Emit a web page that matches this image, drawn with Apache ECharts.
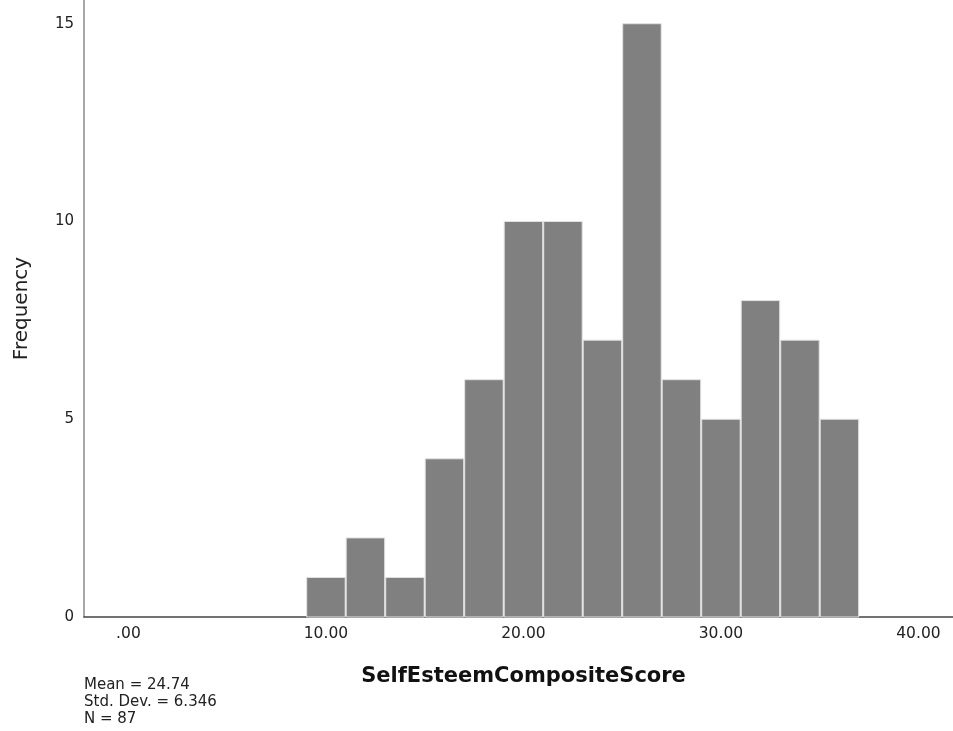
<!DOCTYPE html>
<html>
<head>
<meta charset="utf-8">
<script src="https://cdn.jsdelivr.net/npm/echarts@6/dist/echarts.min.js"></script>
<style>html,body{margin:0;padding:0;background:#fff}#c{width:953px;height:731px}</style>
</head>
<body>
<div id="c"></div>
<script>
// Histogram bins (lower edge), bin width and frequencies
var binStarts = [9, 11, 13, 15, 17, 19, 21, 23, 25, 27, 29, 31, 33, 35];
var binWidth = 2;
var counts = [1, 2, 1, 4, 6, 10, 10, 7, 15, 6, 5, 8, 7, 5];
var xTicks = [0, 10, 20, 30, 40];
var yTicks = [0, 5, 10, 15];
var statsLines = ['Mean = 24.74', 'Std. Dev. = 6.346', 'N = 87'];

var FONT = 'DejaVu Sans';
var chart = echarts.init(document.getElementById('c'), null, {renderer: 'canvas'});
var data = binStarts.map(function (s, i) { return [s, s + binWidth, counts[i]]; });

chart.setOption({
  animation: false,
  backgroundColor: '#fff',
  grid: {left: 84, right: 0, top: 0, bottom: 114},
  xAxis: {
    type: 'value', min: -2.25, max: 41.75,
    name: 'SelfEsteemCompositeScore', nameLocation: 'middle', nameGap: 49,
    nameTextStyle: {fontFamily: FONT, fontSize: 21, fontWeight: 'bold', color: '#111', padding: [0, 0, 0, 10]},
    axisLine: {show: true, onZero: false, lineStyle: {color: '#444', width: 1.5}},
    axisTick: {show: false},
    splitLine: {show: false},
    axisLabel: {
      customValues: xTicks, margin: 9,
      fontFamily: FONT, fontSize: 15.5, color: '#222',
      formatter: function (v) { return v === 0 ? '.00' : v.toFixed(2); }
    }
  },
  yAxis: {
    type: 'value', min: 0, max: 15.6,
    name: 'Frequency', nameLocation: 'middle', nameGap: 52, nameRotate: 90,
    nameTextStyle: {fontFamily: FONT, fontSize: 20, color: '#222'},
    axisLine: {show: true, onZero: false, lineStyle: {color: '#888', width: 1.5}},
    axisTick: {show: false},
    splitLine: {show: false},
    axisLabel: {
      customValues: yTicks, margin: 10,
      fontFamily: FONT, fontSize: 15, color: '#222'
    }
  },
  series: [{
    type: 'custom',
    data: data,
    encode: {x: [0, 1], y: 2},
    renderItem: function (params, api) {
      var p0 = api.coord([api.value(0), 0]);
      var p1 = api.coord([api.value(1), api.value(2)]);
      return {
        type: 'rect',
        shape: {x: p0[0] + 0.5, y: p1[1], width: p1[0] - p0[0] - 1, height: p0[1] - p1[1]},
        style: {fill: '#808080', stroke: '#e2e2e2', lineWidth: 1}
      };
    }
  }],
  graphic: [{
    type: 'text', left: 84, top: 677,
    style: {text: statsLines.join('\n'), fontFamily: FONT, fontSize: 15, lineHeight: 16.7, fill: '#222'}
  }]
});
</script>
</body>
</html>
